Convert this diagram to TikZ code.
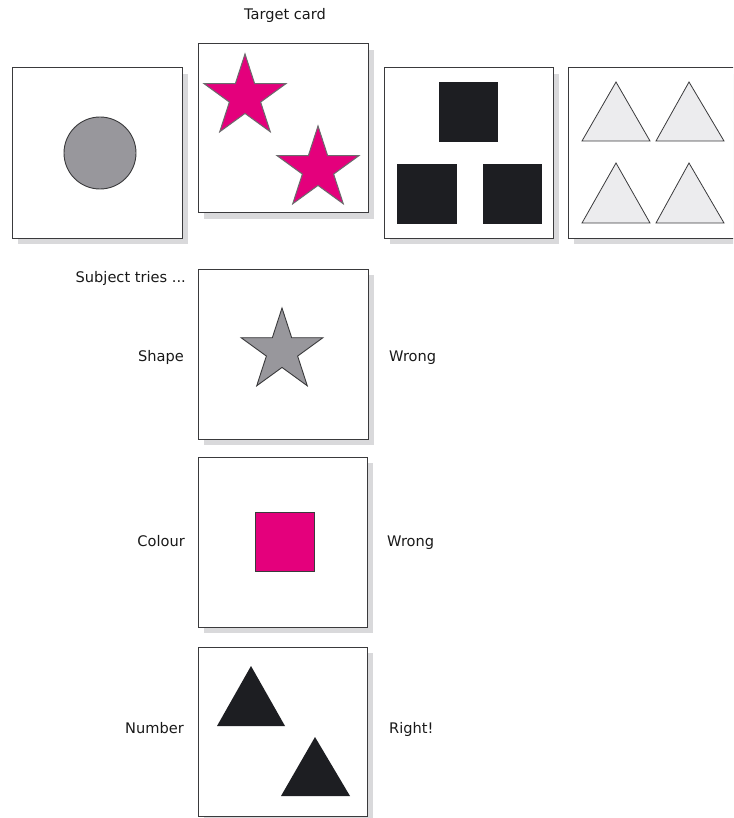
\documentclass[tikz,border=0pt]{standalone}
\usepackage{fontspec}
\setmainfont{DejaVu Sans}
\definecolor{shadowgray}{HTML}{D9D9DB}
\definecolor{edgegray}{HTML}{3A3A3C}
\definecolor{magentaA}{HTML}{E4007C}
\definecolor{darkfill}{HTML}{1D1E22}
\definecolor{midgray}{HTML}{98979C}
\definecolor{lightfill}{HTML}{ECECEE}
\tikzset{
  cardshadow/.style={fill=shadowgray, draw=none},
  cardbox/.style={fill=white, draw=edgegray, line width=1pt},
  label/.style={inner sep=0pt, font=\fontsize{14.6}{17}\selectfont, text=black!90},
  magstar/.style={fill=magentaA, draw=edgegray!75, line width=1pt, line join=miter},
  graystar/.style={fill=midgray, draw=edgegray, line width=0.9pt, line join=miter},
  darksq/.style={fill=darkfill, draw=none},
  lighttri/.style={fill=lightfill, draw=edgegray, line width=0.8pt, line join=miter},
  darktri/.style={fill=darkfill, draw=none},
}
\newcommand\mycard[4]{%
  \fill[cardshadow] (#1+6,#2+6) rectangle (#3+6,#4+6);
  \draw[cardbox] (#1,#2) rectangle (#3,#4);}
\newcommand\mystar[4]{%
  \draw[#4] ({#1+#3*cos(-90)},{#2+#3*sin(-90)})
  \foreach \a/\f in {-54/0.382,-18/1,18/0.382,54/1,90/0.382,126/1,162/0.382,198/1,234/0.382}{
    -- ({#1+\f*#3*cos(\a)},{#2+\f*#3*sin(\a)}) } -- cycle;}
\begin{document}
\begin{tikzpicture}[x=1pt,y=-1pt]
\useasboundingbox (0,0) rectangle (733,818);
\clip (0,0) rectangle (733,818);
% top row
\mycard{12}{68}{182}{238}
\draw[graystar] (100,153) circle (36);
\mycard{198}{44}{368}{213}
\mystar{245}{97}{43}{magstar}
\mystar{318}{169}{43}{magstar}
\mycard{384}{68}{553}{238}
\fill[darksq] (439,82) rectangle (498,142);
\fill[darksq] (397,164) rectangle (457,224);
\fill[darksq] (483,164) rectangle (542,224);
\mycard{568}{68}{738}{238}
\draw[lighttri] (616,82) -- (650,141) -- (582,141) -- cycle;
\draw[lighttri] (689,82) -- (724,141) -- (656,141) -- cycle;
\draw[lighttri] (616,163) -- (650,223) -- (582,223) -- cycle;
\draw[lighttri] (689,163) -- (724,223) -- (656,223) -- cycle;
\node[label, anchor=mid] (target) at (285,17) {Target card};
% trials
\node[label, anchor=mid east] (tries) at (186,280) {Subject tries ...};
\mycard{198}{269}{368}{439}
\mystar{282}{351}{43}{graystar}
\node[label, anchor=mid east] (shape) at (184,359) {Shape};
\node[label, anchor=mid west] (w1) at (389,359) {Wrong};
\mycard{198}{457}{367}{627}
\draw[fill=magentaA, draw=edgegray, line width=0.8pt] (255,512) rectangle (314,571);
\node[label, anchor=mid east] (colour) at (185,544) {Colour};
\node[label, anchor=mid west] (w2) at (387,544) {Wrong};
\mycard{198}{647}{367}{816}
\fill[darktri] (251,666) -- (285,726) -- (217,726) -- cycle;
\fill[darktri] (315,737) -- (350,796) -- (281,796) -- cycle;
\node[label, anchor=mid east] (number) at (184,731) {Number};
\node[label, anchor=mid west] (right) at (389,731) {Right!};
\end{tikzpicture}
\end{document}
